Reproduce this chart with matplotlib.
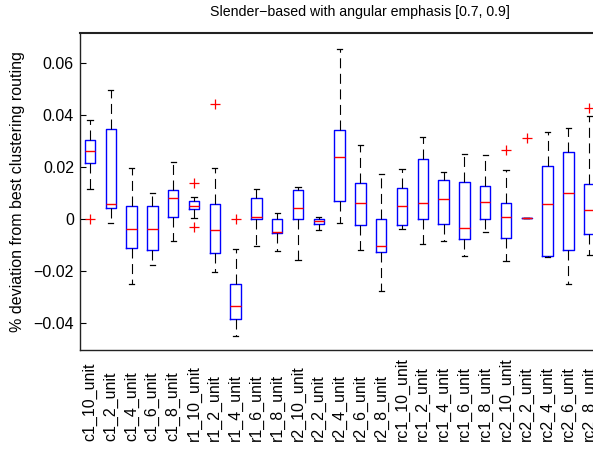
import matplotlib
matplotlib.use("Agg")
import matplotlib.pyplot as plt

plt.rcParams['font.family'] = ['Liberation Sans', 'DejaVu Sans']

names = ["c1_10_unit", "c1_2_unit", "c1_4_unit", "c1_6_unit", "c1_8_unit",
         "r1_10_unit", "r1_2_unit", "r1_4_unit", "r1_6_unit", "r1_8_unit",
         "r2_10_unit", "r2_2_unit", "r2_4_unit", "r2_6_unit", "r2_8_unit",
         "rc1_10_unit", "rc1_2_unit", "rc1_4_unit", "rc1_6_unit", "rc1_8_unit",
         "rc2_10_unit", "rc2_2_unit", "rc2_4_unit", "rc2_6_unit", "rc2_8_unit"]

whishi = [0.0382, 0.0497, 0.0196, 0.0100, 0.0219, 0.0085, 0.0199, -0.0114, 0.0115, 0.0023,
          0.0125, 0.0008, 0.0654, 0.0286, 0.0174, 0.0192, 0.0318, 0.0183, 0.0250, 0.0247,
          0.0190, 0.0006, 0.0337, 0.0350, 0.0398]
q3 = [0.0305, 0.0346, 0.0051, 0.0051, 0.0113, 0.0072, 0.0058, -0.0249, 0.0083, 0.0001,
      0.0113, 0.0001, 0.0343, 0.0138, 0.0001, 0.0122, 0.0231, 0.0151, 0.0145, 0.0128,
      0.0062, 0.0006, 0.0206, 0.0258, 0.0135]
med = [0.0262, 0.0058, -0.0038, -0.0037, 0.0081, 0.0052, -0.0041, -0.0333, 0.0010, -0.0050,
       0.0043, -0.0008, 0.0238, 0.0064, -0.0103, 0.0051, 0.0064, 0.0079, -0.0035, 0.0068,
       0.0010, 0.0005, 0.0058, 0.0102, 0.0035]
q1 = [0.0218, 0.0042, -0.0112, -0.0118, 0.0010, 0.0040, -0.0131, -0.0385, 0.0001, -0.0054,
      0.0001, -0.0019, 0.0072, -0.0023, -0.0126, -0.0023, 0.0001, -0.0019, -0.0076, 0.0001,
      -0.0073, 0.0004, -0.0141, -0.0118, -0.0058]
whislo = [0.0117, -0.0013, -0.0248, -0.0176, -0.0083, 0.0004, -0.0202, -0.0449, -0.0104, -0.0121,
          -0.0157, -0.0041, -0.0013, -0.0118, -0.0276, -0.0038, -0.0096, -0.0082, -0.0141, -0.0048,
          -0.0160, 0.0004, -0.0146, -0.0250, -0.0137]
outliers = {"c1_10_unit": [0.0], "r1_10_unit": [0.0141, -0.0028], "r1_2_unit": [0.0442],
            "r1_4_unit": [0.0], "rc2_10_unit": [0.0267], "rc2_2_unit": [0.0312],
            "rc2_8_unit": [0.0429]}

yticks = [-0.04, -0.02, 0, 0.02, 0.04, 0.06]
ytick_labels = ["\u22120.04", "\u22120.02", "0", "0.02", "0.04", "0.06"]

stats = []
for i, n in enumerate(names):
    stats.append(dict(label=n, med=med[i], q1=q1[i], q3=q3[i],
                      whislo=whislo[i], whishi=whishi[i],
                      fliers=outliers.get(n, [])))

W, H = 593, 451
fig = plt.figure(figsize=(W / 100, H / 100), dpi=100)
# axes run a little past the right edge of the figure
ax = fig.add_axes([79.5 / W, 1 - 350 / H, 520 / W, 317 / H])

ax.bxp(stats, positions=range(1, len(names) + 1), widths=0.5, capwidths=0.25,
       boxprops=dict(color="blue", linewidth=1.0),
       medianprops=dict(color="red", linewidth=1.0),
       whiskerprops=dict(color="black", linewidth=0.8, linestyle=(0, (9, 5))),
       capprops=dict(color="black", linewidth=0.9),
       flierprops=dict(marker="+", markeredgecolor="red", markersize=7,
                       markeredgewidth=0.9, linestyle="none"))

ax.set_xlim(0.5, 25.5)
ax.set_ylim(-0.0503, 0.0717)
ax.set_yticks(yticks)
ax.set_yticklabels(ytick_labels)
ax.tick_params(axis="y", direction="in", length=4, labelsize=11.5, pad=4)
ax.tick_params(axis="x", length=0, labelsize=11.5, pad=65.5)
for lab in ax.get_xticklabels():
    lab.set_rotation(90)
    lab.set_va("bottom")
    lab.set_ha("center")

ax.spines["right"].set_visible(False)
ax.spines["top"].set_linewidth(1.5)
for s in ("left", "bottom"):
    ax.spines[s].set_linewidth(1.0)
for s in ax.spines.values():
    s.set_color("#222222")

ax.set_ylabel("% deviation from best clustering routing", fontsize=11.5, labelpad=6)
fig.text(359.5 / W, 1 - 12 / H, "Slender\u2212based with angular emphasis [0.7, 0.9]",
         ha="center", va="center", fontsize=10.2)

fig.savefig("out.png", dpi=100)
